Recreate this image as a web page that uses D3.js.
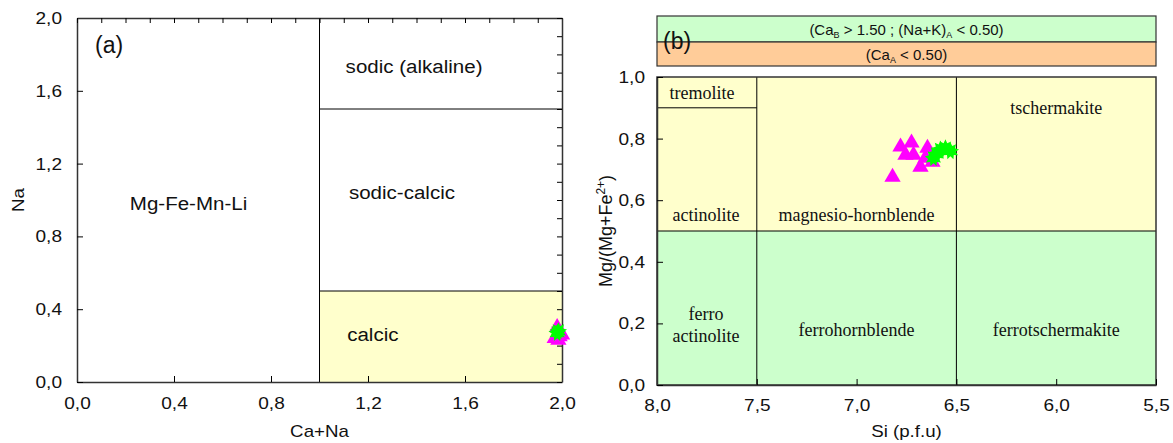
<!DOCTYPE html>
<html>
<head>
<meta charset="utf-8">
<script src="https://cdn.jsdelivr.net/npm/d3@7"></script>
<style>
  body { margin: 0; background: #fff; }
  text { font-family: "Liberation Sans", Arial, sans-serif; fill: #111; }
  .serif { font-family: "Liberation Serif", "Times New Roman", serif; }
</style>
</head>
<body>
<svg id="chart" width="1173" height="443"></svg>
<script>
// panel (a): Na vs Ca+Na
const aTicks = [0, 0.4, 0.8, 1.2, 1.6, 2.0]
const aTriX = [1.98, 2.0, 1.97, 1.985, 1.99]
const aTriY = [0.30, 0.26, 0.24, 0.23, 0.25]
const aStarX = [1.98, 1.985]
const aStarY = [0.27, 0.28]
const aFields = ['Mg-Fe-Mn-Li', 'sodic (alkaline)', 'sodic-calcic', 'calcic']
const aFieldX = [0.46, 1.39, 1.34, 1.22]
const aFieldY = [0.98, 1.73, 1.04, 0.26]

// panel (b): Mg/(Mg+Fe2+) vs Si
const bTicksX = [8.0, 7.5, 7.0, 6.5, 6.0, 5.5]
const bTicksY = [0, 0.2, 0.4, 0.6, 0.8, 1.0]
const bTriX = [6.82, 6.78, 6.725, 6.645, 6.715, 6.68, 6.62, 6.755, 6.655]
const bTriY = [0.675, 0.773, 0.786, 0.769, 0.747, 0.708, 0.724, 0.747, 0.737]
const bStarX = [6.615, 6.58, 6.555, 6.53, 6.60]
const bStarY = [0.737, 0.765, 0.769, 0.760, 0.750]
const bFields = ['tremolite', 'actinolite', 'magnesio-hornblende', 'tschermakite', 'ferrohornblende', 'ferrotschermakite']
const bFieldX = [7.775, 7.755, 7.0, 6.0, 7.0, 6.0]
const bFieldY = [0.948, 0.552, 0.552, 0.9, 0.18, 0.18]

const yellow = '#ffffcc', green = '#ccffcc', orange = '#ffcc99'
const magenta = '#ff00ff', lime = '#00ff00'
const fmt = d => d.toFixed(1).replace('.', ',')

const svg = d3.select('#chart')

// the reference's sans text is a bit wider than Liberation Sans
function stretch(sel, k) {
	sel.each(function() {
		const w = this.getComputedTextLength()
		this.setAttribute('textLength', w * k)
		this.setAttribute('lengthAdjust', 'spacingAndGlyphs')
	})
}

// spiky star used for the green points
const spiky = {
	draw(ctx, size) {
		const r = Math.sqrt(size / 2.2), n = 9
		for (let i = 0; i < n * 2; i++) {
			const rr = i % 2 ? r * 0.6 : r
			const a = Math.PI * i / n - Math.PI / 2
			i ? ctx.lineTo(rr * Math.cos(a), rr * Math.sin(a)) : ctx.moveTo(rr * Math.cos(a), rr * Math.sin(a))
		}
		ctx.closePath()
	}
}
const tri = d3.symbol().type(d3.symbolTriangle).size(115)
const star = d3.symbol().type(spiky).size(170)

function drawPoints(g, x, y, xs, ys, sym, color) {
	g.selectAll(null).data(xs.map((d, i) => [d, ys[i]])).enter().append('path')
		.attr('d', sym).attr('fill', color)
		.attr('transform', d => `translate(${x(d[0])},${y(d[1])})`)
}

function line(g, x1, y1, x2, y2) {
	g.append('line').attr('x1', x1).attr('y1', y1).attr('x2', x2).attr('y2', y2)
		.attr('stroke', '#000').attr('stroke-width', 1)
}

// ---------- panel (a)
{
	const x = d3.scaleLinear().domain([0, 2]).range([77, 562])
	const y = d3.scaleLinear().domain([0, 2]).range([382, 18])
	const g = svg.append('g')

	g.append('rect').attr('x', x(1)).attr('y', y(0.5)).attr('width', x(2) - x(1)).attr('height', y(0) - y(0.5))
		.attr('fill', yellow)
	line(g, x(1), y(0), x(1), y(2))
	line(g, x(1), y(1.5), x(2), y(1.5))
	line(g, x(1), y(0.5), x(2), y(0.5))

	const minor = d3.range(0, 2.01, 0.1)
	g.append('g').attr('transform', `translate(0,${y(0)})`)
		.call(d3.axisBottom(x).tickValues(aTicks).tickFormat(fmt).tickSizeInner(-6).tickSizeOuter(0).tickPadding(15))
	g.append('g').attr('transform', `translate(${x(0)},0)`)
		.call(d3.axisLeft(y).tickValues(aTicks).tickFormat(fmt).tickSizeInner(-6).tickSizeOuter(0).tickPadding(15))
	g.append('g').attr('transform', `translate(0,${y(2)})`)
		.call(d3.axisTop(x).tickValues(minor).tickFormat('').tickSizeInner(-5).tickSizeOuter(0))
	g.append('g').attr('transform', `translate(${x(2)},0)`)
		.call(d3.axisRight(y).tickValues(minor).tickFormat('').tickSizeInner(-5).tickSizeOuter(0))

	g.selectAll('.tick text').style('font-size', '17px').attr('fill', '#111').call(stretch, 1.12)
	g.selectAll('.domain').attr('stroke', '#333').attr('stroke-width', 1.5)

	g.selectAll(null).data(aFields).enter().append('text')
		.attr('x', (d, i) => x(aFieldX[i])).attr('y', (d, i) => y(aFieldY[i])).attr('dy', '0.35em')
		.attr('text-anchor', 'middle').style('font-size', '18px').text(d => d)
		.call(stretch, 1.14)

	drawPoints(g, x, y, aTriX, aTriY, tri, magenta)
	drawPoints(g, x, y, aStarX, aStarY, star, lime)

	g.append('text').attr('x', 95).attr('y', 53).style('font-size', '23px').text('(a)')
	g.append('text').attr('x', x(1)).attr('y', 437).attr('text-anchor', 'middle').style('font-size', '17px').text('Ca+Na')
		.call(stretch, 1.1)
	g.append('text').attr('transform', `translate(24,${y(1)}) rotate(-90)`).attr('text-anchor', 'middle')
		.style('font-size', '17px').text('Na').call(stretch, 1.1)
}

// ---------- panel (b)
{
	const x = d3.scaleLinear().domain([8, 5.5]).range([657, 1156])
	const y = d3.scaleLinear().domain([0, 1]).range([385, 77])
	const g = svg.append('g')

	g.append('rect').attr('x', x(8)).attr('y', y(1)).attr('width', x(5.5) - x(8)).attr('height', y(0.5) - y(1)).attr('fill', yellow)
	g.append('rect').attr('x', x(8)).attr('y', y(0.5)).attr('width', x(5.5) - x(8)).attr('height', y(0) - y(0.5)).attr('fill', green)
	line(g, x(7.5), y(0), x(7.5), y(1))
	line(g, x(6.5), y(0), x(6.5), y(1))
	line(g, x(8), y(0.5), x(5.5), y(0.5))
	line(g, x(8), y(0.9), x(7.5), y(0.9))

	g.append('rect').attr('x', x(8)).attr('y', y(1)).attr('width', x(5.5) - x(8)).attr('height', y(0) - y(1))
		.attr('fill', 'none').attr('stroke', '#333').attr('stroke-width', 1.5)

	g.append('g').attr('transform', `translate(0,${y(0)})`)
		.call(d3.axisBottom(x).tickValues(bTicksX).tickFormat(fmt).tickSizeInner(-6).tickSizeOuter(0).tickPadding(14))
	g.append('g').attr('transform', `translate(${x(8)},0)`)
		.call(d3.axisLeft(y).tickValues(bTicksY).tickFormat(fmt).tickSizeInner(-6).tickSizeOuter(0).tickPadding(12))
	g.selectAll('.tick text').style('font-size', '17px').attr('fill', '#111').call(stretch, 1.12)
	g.selectAll('.domain').attr('stroke', '#333').attr('stroke-width', 1.5)

	g.selectAll(null).data(bFields).enter().append('text').attr('class', 'serif')
		.attr('x', (d, i) => x(bFieldX[i])).attr('y', (d, i) => y(bFieldY[i])).attr('dy', '0.35em')
		.attr('text-anchor', 'middle').style('font-size', '18px').text(d => d)
	const fa = g.append('text').attr('class', 'serif').attr('text-anchor', 'middle').style('font-size', '18px')
		.attr('x', x(7.755)).attr('y', y(0.21))
	fa.append('tspan').attr('x', x(7.755)).text('ferro')
	fa.append('tspan').attr('x', x(7.755)).attr('dy', '1.2em').text('actinolite')

	drawPoints(g, x, y, bTriX, bTriY, tri, magenta)
	drawPoints(g, x, y, bStarX, bStarY, star, lime)

	// condition bands above the plot
	g.append('rect').attr('x', x(8)).attr('y', 16).attr('width', x(5.5) - x(8)).attr('height', 26)
		.attr('fill', green).attr('stroke', '#333').attr('stroke-width', 1.2)
	g.append('rect').attr('x', x(8)).attr('y', 42).attr('width', x(5.5) - x(8)).attr('height', 24)
		.attr('fill', orange).attr('stroke', '#333').attr('stroke-width', 1.2)
	const cx = (x(8) + x(5.5)) / 2
	const t1 = g.append('text').attr('x', cx).attr('y', 35).attr('text-anchor', 'middle').style('font-size', '15px')
	t1.append('tspan').text('(Ca')
	t1.append('tspan').attr('dy', 3).style('font-size', '9px').text('B')
	t1.append('tspan').attr('dy', -3).text(' > 1.50 ; (Na+K)')
	t1.append('tspan').attr('dy', 3).style('font-size', '9px').text('A')
	t1.append('tspan').attr('dy', -3).text(' < 0.50)')
	const t2 = g.append('text').attr('x', cx).attr('y', 60).attr('text-anchor', 'middle').style('font-size', '15px')
	t2.append('tspan').text('(Ca')
	t2.append('tspan').attr('dy', 3).style('font-size', '9px').text('A')
	t2.append('tspan').attr('dy', -3).text(' < 0.50)')

	g.append('text').attr('x', 663).attr('y', 49).style('font-size', '23px').text('(b)')
	g.append('text').attr('x', cx).attr('y', 437).attr('text-anchor', 'middle').style('font-size', '17px').text('Si (p.f.u)')
		.call(stretch, 1.1)
	const yl = g.append('text').attr('transform', `translate(612,${y(0.5)}) rotate(-90)`).attr('text-anchor', 'middle')
		.style('font-size', '18px')
	yl.append('tspan').text('Mg/(Mg+Fe')
	yl.append('tspan').attr('dy', -7).style('font-size', '12px').text('2+')
	yl.append('tspan').attr('dy', 7).text(')')
}
</script>
</body>
</html>
